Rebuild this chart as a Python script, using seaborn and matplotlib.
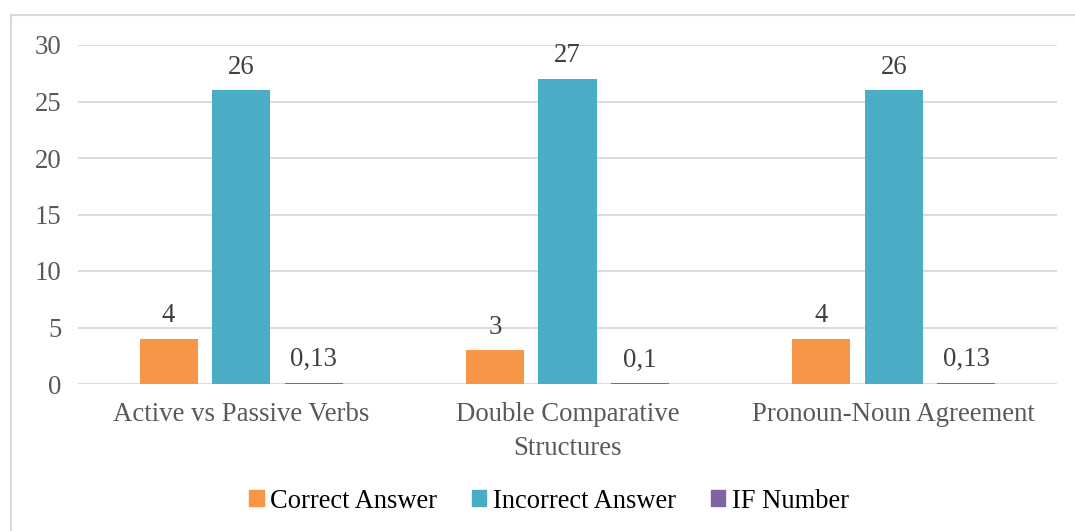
import matplotlib
matplotlib.use("Agg")
from matplotlib import pyplot as plt
from matplotlib.patches import Rectangle
import seaborn as sns
import pandas as pd

categories = ["Active vs Passive Verbs", "Double Comparative\nStructures", "Pronoun-Noun Agreement"]
series = ["Correct Answer", "Incorrect Answer", "IF Number"]
correct = [4, 3, 4]
incorrect = [26, 27, 26]
if_number = [0.13, 0.1, 0.13]
colors = ["#F79646", "#4BACC6", "#8064A2"]

sns.set_style("white")
plt.rcParams["font.family"] = ["Liberation Serif", "DejaVu Serif"]

rows = []
for name, vals in zip(series, [correct, incorrect, if_number]):
    for cat, v in zip(categories, vals):
        rows.append({"Category": cat, "Series": name, "Value": v})
df = pd.DataFrame(rows)

fig = plt.figure(figsize=(10.75, 5.31), dpi=100)
ax = fig.add_axes([78 / 1075, 1 - 384 / 531, (1057 - 78) / 1075, (384 - 45) / 531])

sns.barplot(data=df, x="Category", y="Value", hue="Series", palette=colors,
            width=0.667, gap=0.2, ax=ax, legend=False, saturation=1,
            errorbar=None, linewidth=0)

fs = 19.3

def fmt(v):
    return ("%g" % v).replace(".", ",")

for cont in ax.containers:
    ax.bar_label(cont, labels=[fmt(b.get_height()) for b in cont],
                 padding=7.5, fontsize=fs, color="#404040")

ax.set_ylim(0, 30)
ax.set_yticks(range(0, 31, 5))
ax.yaxis.grid(True, color="#D9D9D9", linewidth=1.3)
ax.set_axisbelow(True)
for s in ax.spines.values():
    s.set_visible(False)
ax.set_xlabel("")
ax.set_ylabel("")
ax.tick_params(axis="y", length=0, labelsize=fs, labelcolor="#595959", pad=12)
ax.tick_params(axis="x", length=0, labelsize=fs, labelcolor="#595959", pad=13)
for t in ax.get_xticklabels():
    t.set_linespacing(1.45)

handles = [Rectangle((0, 0), 1, 1, color=c) for c in colors]
fig.legend(handles, series, loc="center", bbox_to_anchor=(549 / 1075, 1 - 501 / 531),
           ncol=3, frameon=False, fontsize=19.1, handlelength=0.55, handleheight=0.55,
           handletextpad=0.25, columnspacing=1.3, labelcolor="black")

fig.patches.append(Rectangle((11 / 1075, -0.1), 1.1, 1.1 - 15 / 531,
                             transform=fig.transFigure, fill=False,
                             edgecolor="#D9D9D9", linewidth=1.5))

fig.savefig("out.png", dpi=100)
